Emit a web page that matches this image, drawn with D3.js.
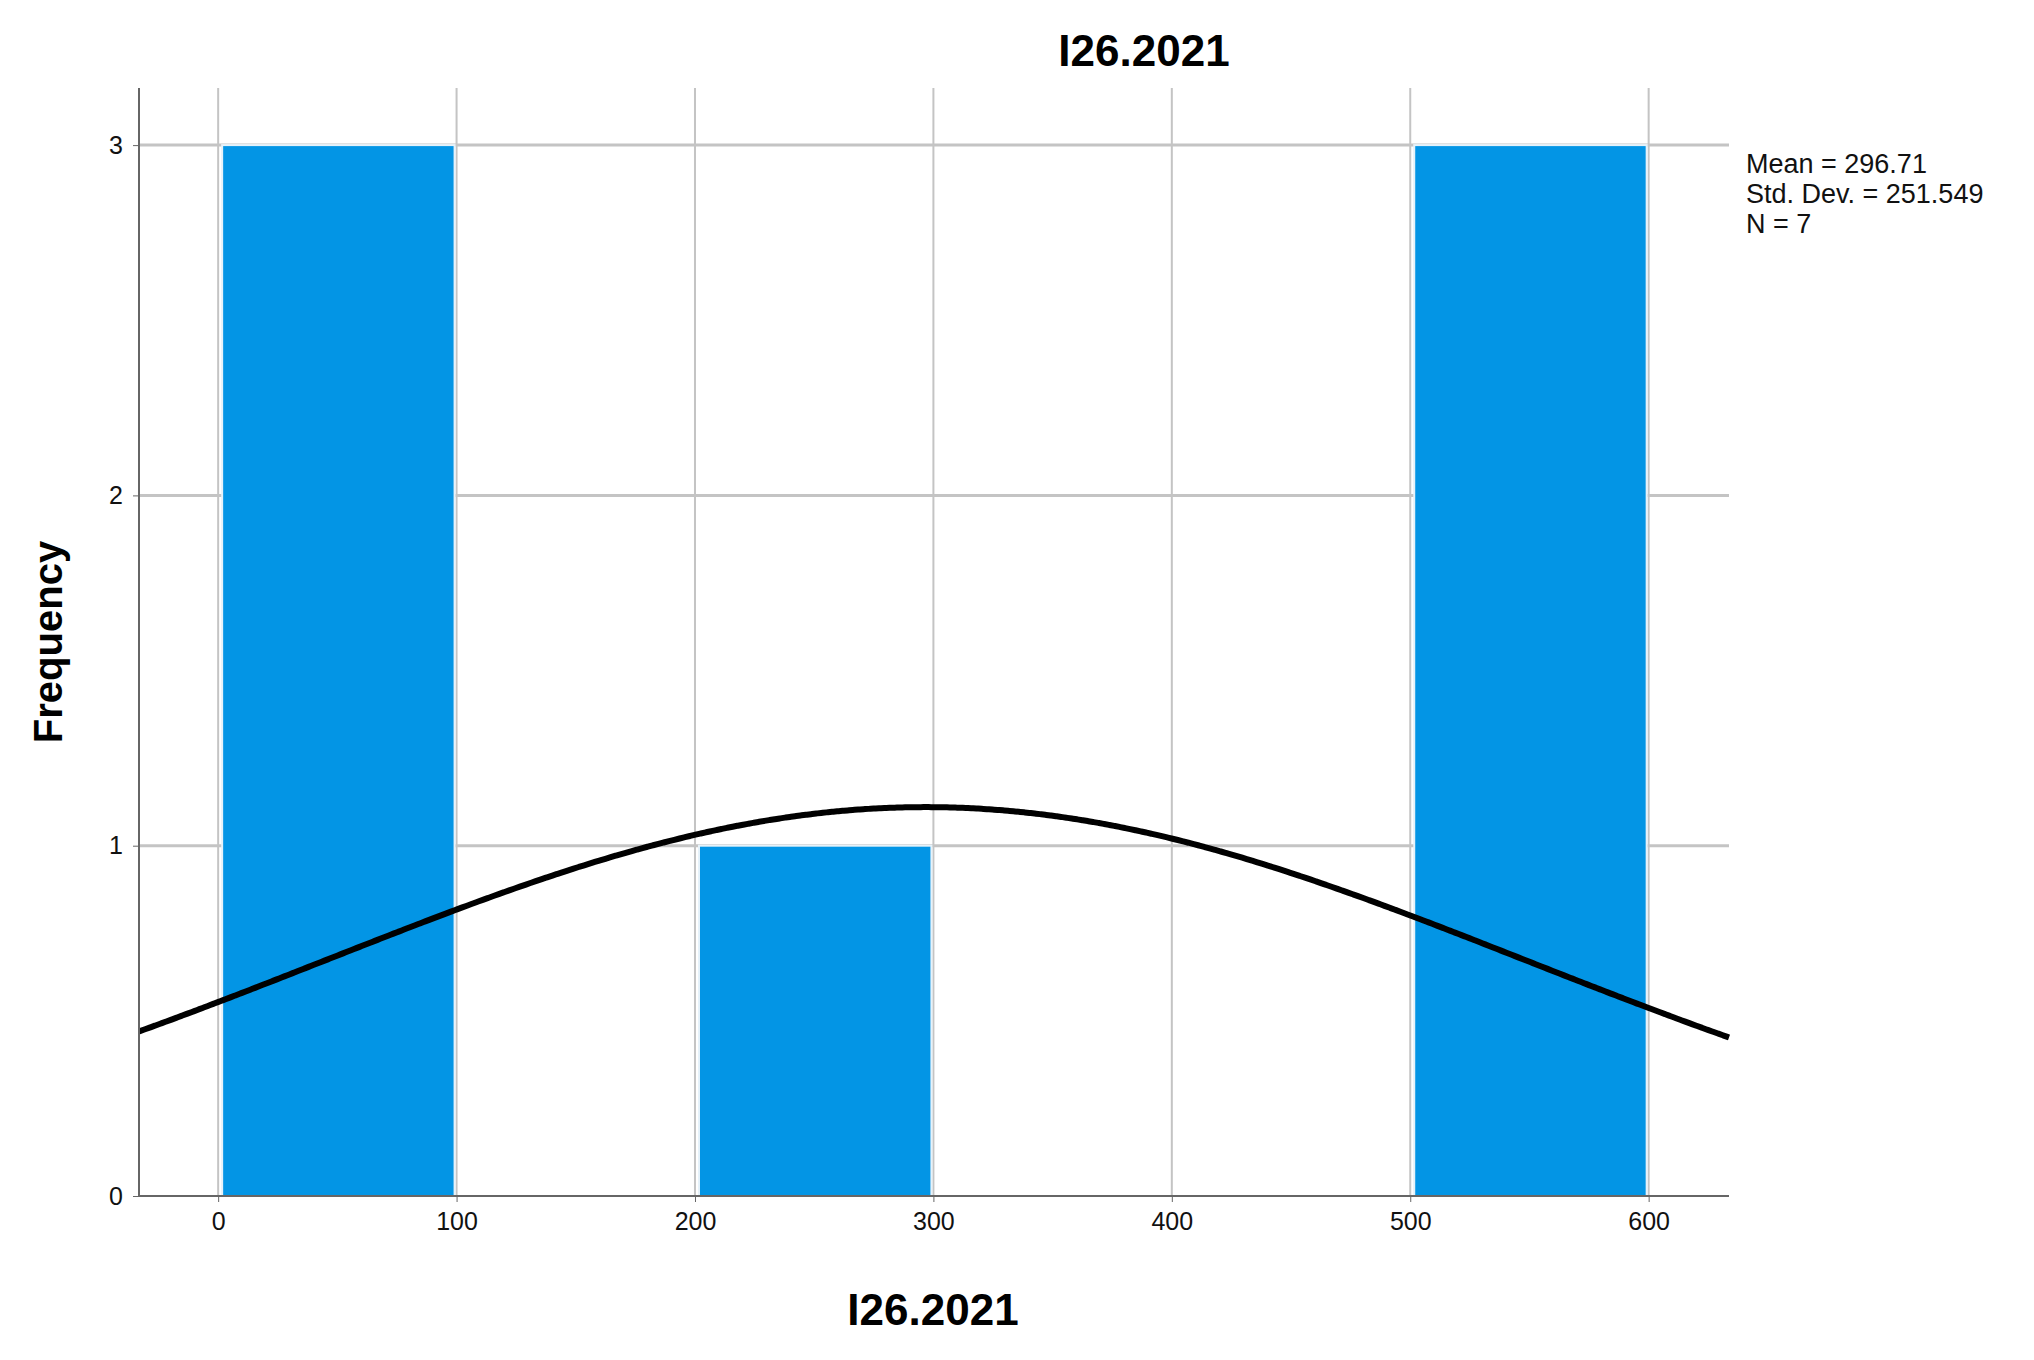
<!DOCTYPE html>
<html><head><meta charset="utf-8">
<script src="https://cdn.jsdelivr.net/npm/d3@7"></script>
<style>body{margin:0;background:#fff}</style></head>
<body><svg id="c" width="2034" height="1360"></svg>
<script>
const binStarts=[0,200,500];
const binEnds=[100,300,600];
const counts=[3,1,3];
const xTicks=[0,100,200,300,400,500,600];
const yTicks=[0,1,2,3];
const mean=296.71, sd=251.549, n=7, binW=100;
const statLines=["Mean = 296.71","Std. Dev. = 251.549","N = 7"];

const svg=d3.select("#c");
const L=139,R=1729,T=88,B=1196;
const x=d3.scaleLinear().domain([-33.2,633.7]).range([L,R]);
const y=d3.scaleLinear().domain([0,3.163]).range([B,T]);
const font="'Liberation Sans Narrow','Liberation Sans',Arial,sans-serif";

const g=svg.append("g");
g.selectAll(".vg").data(xTicks).join("line").attr("x1",d=>x(d)).attr("x2",d=>x(d)).attr("y1",T).attr("y2",B).attr("stroke","#c4c4c4").attr("stroke-width",2);
g.selectAll(".hg").data(yTicks.slice(1)).join("line").attr("x1",L).attr("x2",R).attr("y1",d=>y(d)).attr("y2",d=>y(d)).attr("stroke","#c4c4c4").attr("stroke-width",3);

g.selectAll(".bar").data(counts).join("rect")
 .attr("x",(d,i)=>x(binStarts[i])+4).attr("width",(d,i)=>x(binEnds[i])-x(binStarts[i])-6)
 .attr("y",d=>y(d)).attr("height",d=>y(0)-y(d))
 .attr("fill","#0395e5").attr("stroke","#e6f2fa").attr("stroke-width",2);

const pts=d3.range(0,301).map(i=>{const v=-33.2+i*(633.7+33.2)/300;return [v,n*binW*Math.exp(-0.5*((v-mean)/sd)**2)/(sd*Math.sqrt(2*Math.PI))];});
g.append("path").datum(pts).attr("d",d3.line().x(d=>x(d[0])).y(d=>y(d[1])).curve(d3.curveBasis))
 .attr("fill","none").attr("stroke","#000").attr("stroke-width",6);

const xa=svg.append("g").attr("transform",`translate(0,${B})`).call(d3.axisBottom(x).tickValues(xTicks).tickSize(6).tickPadding(10));
const ya=svg.append("g").attr("transform",`translate(${L},0)`).call(d3.axisLeft(y).tickValues(yTicks).tickSize(6).tickPadding(10).tickFormat(d3.format("d")));
[xa,ya].forEach(a=>{a.select(".domain").attr("stroke","#666").attr("stroke-width",2);a.selectAll(".tick line").attr("stroke","#666");a.selectAll("text").attr("font-family",font).attr("font-size",25).attr("fill","#111");});
xa.selectAll(".domain").attr("d",`M${L},0H${R}`);
ya.selectAll(".domain").attr("d",`M0,${T}V${B}`);

svg.append("text").attr("x",1144).attr("y",66).attr("text-anchor","middle").attr("font-family",font).attr("font-weight","bold").attr("font-size",44).text("I26.2021");
svg.append("text").attr("x",933).attr("y",1325).attr("text-anchor","middle").attr("font-family",font).attr("font-weight","bold").attr("font-size",44).text("I26.2021");
svg.append("text").attr("transform","translate(62,642) rotate(-90)").attr("text-anchor","middle").attr("font-family","'Liberation Sans',Arial,sans-serif").attr("font-weight","bold").attr("font-size",40).text("Frequency");
svg.selectAll(".st").data(statLines).join("text").attr("x",1746).attr("y",(d,i)=>173+i*30).attr("font-family","'Liberation Sans',Arial,sans-serif").attr("font-size",27).attr("fill","#111").text(d=>d);
</script></body></html>
